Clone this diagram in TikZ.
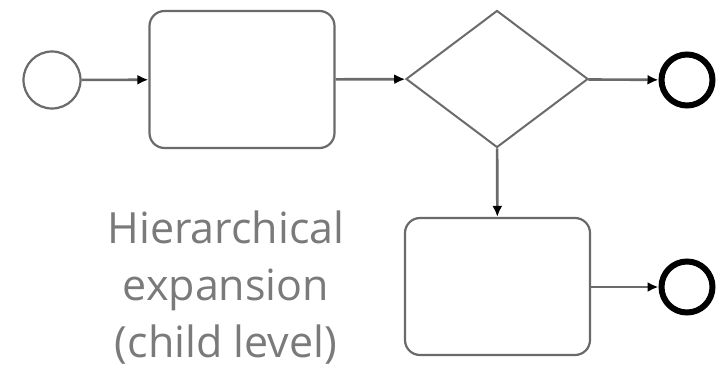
\documentclass[tikz,border=0pt]{standalone}
\usepackage{xcolor}
\usepackage{fontspec}
\setmainfont{Open Sans}
\usepackage{tikz}
\usetikzlibrary{shapes.geometric,arrows.meta}

\definecolor{linegray}{HTML}{6A6A6A}
\definecolor{textgray}{HTML}{7A7A7A}

\begin{document}
\begin{tikzpicture}[x=1pt,y=-1pt,
    flow/.style={linegray, line width=2.6pt, -{Latex[length=11pt,width=10pt,color=black]}},
    task/.style={draw=linegray, line width=2.2pt, rounded corners=15pt, minimum width=185pt, minimum height=137pt, inner sep=0pt},
    gate/.style={draw=linegray, line width=2pt, diamond, aspect=1.33, minimum width=182pt, minimum height=137pt, inner sep=0pt},
    startev/.style={draw=linegray, line width=2.2pt, circle, minimum size=57pt, inner sep=0pt},
    endev/.style={draw=black, line width=6pt, circle, minimum size=51pt, inner sep=0pt}]
          \useasboundingbox (0,0) rectangle (720,369);
          \node[startev] (start) at (52,80) {};
          \node[task] (taskA) at (242,79.5) {};
          \node[gate] (split) at (497,79) {};
          \node[endev] (endA) at (687,80) {};
          \node[task] (taskB) at (497.5,286.5) {};
          \node[endev] (endB) at (687,287) {};
          \draw[flow] (start) -- (taskA);
          \draw[flow] (taskA) -- (split);
          \draw[flow] (split) -- (endA);
          \draw[flow] (split) -- (taskB);
          \draw[flow] (taskB.east |- endB) -- (endB);
          \node[textgray, font=\fontsize{43}{57}\selectfont, align=center] (note) at (226,288) {Hierarchical\\expansion\\(child level)};
        \end{tikzpicture}
\end{document}
